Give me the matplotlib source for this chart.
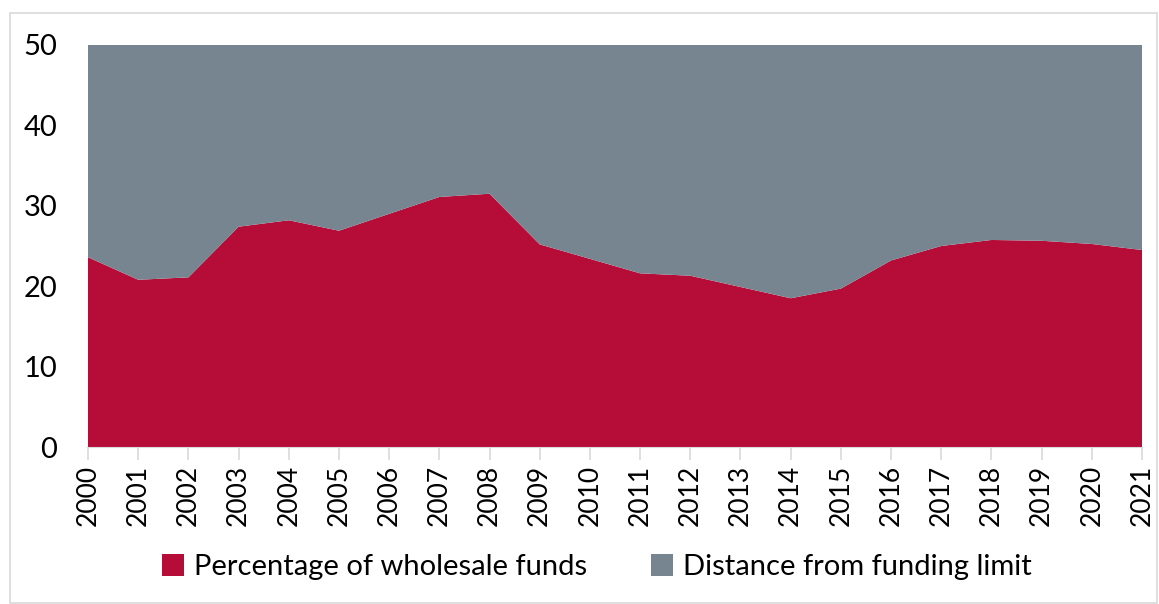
import matplotlib.pyplot as plt
import matplotlib.patches as mpatches
import numpy as np

plt.rcParams['font.family'] = ['Lato', 'DejaVu Sans']

years = list(range(2000, 2022))
wholesale = [23.6, 20.8, 21.1, 27.4, 28.2, 26.9, 29.0, 31.1, 31.5, 25.2, 23.4,
             21.6, 21.3, 19.9, 18.5, 19.7, 23.2, 25.0, 25.75, 25.65, 25.25, 24.5]
funding_limit = 50

red = '#B50C38'
grey = '#778591'

distance = [funding_limit - v for v in wholesale]

fig = plt.figure(figsize=(11.59, 6.04), dpi=100)
ax = fig.add_axes([88 / 1159, 1 - 447 / 604, (1142 - 88) / 1159, (447 - 45) / 604])

ax.stackplot(years, wholesale, distance, colors=[red, grey], linewidth=0)

ax.set_xlim(2000, 2021)
ax.set_ylim(0, 50)
ax.set_yticks(np.arange(0, 51, 10))
ax.set_xticks(years)
ax.set_xticklabels([str(y) for y in years], rotation=90, fontsize=19)
ax.tick_params(axis='y', length=0, labelsize=21, pad=22)
ax.tick_params(axis='x', length=9, color='#d9d9d9', width=1.2, pad=4)
for s in ['top', 'right', 'left']:
    ax.spines[s].set_visible(False)
ax.spines['bottom'].set_color('#d9d9d9')

handles = [mpatches.Patch(facecolor=red, label='Percentage of wholesale funds'),
           mpatches.Patch(facecolor=grey, label='Distance from funding limit')]
fig.legend(handles=handles, loc='center', bbox_to_anchor=(597 / 1159, 1 - 567 / 604),
           ncol=2, frameon=False, fontsize=21, handlelength=0.75, handleheight=0.75,
           handletextpad=0.35, columnspacing=2.2)

fig.patches.append(mpatches.Rectangle((10 / 1159, 0.002), 1147 / 1159, 1 - 13 / 604 - 0.002,
                                      transform=fig.transFigure, fill=False,
                                      edgecolor='#d9d9d9', linewidth=1.2))

fig.savefig('out.png', dpi=100)
